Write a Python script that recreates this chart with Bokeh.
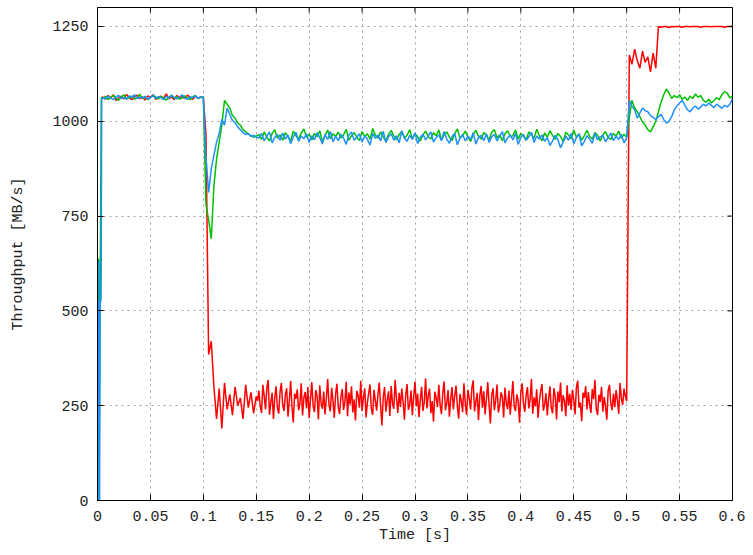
from bokeh.plotting import figure
from bokeh.models import FixedTicker, NumeralTickFormatter
from bokeh.embed import file_html
from bokeh.resources import INLINE

# ---------------- data ----------------
STEP = 0.0025
SEG_A_START = 0.005
SEG_B_START = 0.1025
SEG_C_START = 0.1525
RED_C_START = 0.15125
RED_C_STEP = 0.00125
SEG_D_START = 0.5025

X_MAX = 0.6
Y_MAX = 1300
x_ticks = [0, 0.05, 0.1, 0.15, 0.2, 0.25, 0.3, 0.35, 0.4, 0.45, 0.5, 0.55, 0.6]
y_ticks = [0, 250, 500, 750, 1000, 1250]

red_start_t = [0.0040]
red_start_v = [1064]
green_start_t = [0.0004, 0.0010, 0.0014, 0.0024, 0.0036]
green_start_v = [628, 638, 0, 515, 1062]
blue_start_t = [0.0004, 0.0010, 0.0014, 0.0020, 0.0024, 0.0034, 0.0040]
blue_start_v = [620, 632, 0, 0, 522, 530, 1060]

red_a = [1064, 1058, 1068, 1061, 1070, 1055, 1063, 1066, 1059, 1071,
         1062, 1057, 1065, 1069, 1060, 1064, 1056, 1067, 1063, 1070,
         1058, 1062, 1066, 1061, 1072, 1059, 1064, 1057, 1068, 1062,
         1065, 1060, 1069, 1063, 1058, 1066, 1061, 1064, 1062]
green_a = [1060, 1066, 1057, 1063, 1068, 1061, 1055, 1064, 1070, 1059,
           1062, 1067, 1058, 1063, 1071, 1060, 1065, 1057, 1062, 1068,
           1064, 1059, 1066, 1061, 1056, 1063, 1069, 1060, 1065, 1058,
           1062, 1067, 1061, 1057, 1064, 1068, 1060, 1063, 1065]
blue_a = [1062, 1059, 1066, 1061, 1057, 1065, 1068, 1060, 1063, 1058,
          1067, 1062, 1070, 1059, 1064, 1061, 1066, 1058, 1063, 1069,
          1060, 1065, 1062, 1057, 1066, 1061, 1068, 1063, 1059, 1064,
          1070, 1061, 1058, 1065, 1062, 1067, 1060, 1064, 1063]

red_b = [965, 385, 420, 300, 215, 295, 190, 310, 240, 280,
         225, 300, 250, 270, 215, 305, 245, 285, 230, 275]
green_b = [780, 740, 690, 830, 900, 945, 990, 1055, 1045, 1035,
           1015, 1008, 995, 990, 978, 972, 966, 962, 958, 961]
blue_b = [905, 812, 875, 910, 945, 968, 1005, 990, 1035, 1018,
          1002, 996, 985, 978, 970, 965, 968, 960, 963, 958]

red_c = [262, 290, 248, 231, 305, 276, 240, 298, 318, 226,
         258, 284, 215, 272, 301, 244, 229, 287, 310, 252,
         236, 279, 296, 221, 263, 315, 247, 206, 282, 268,
         293, 238, 255, 309, 224, 271, 286, 243, 299, 217,
         266, 312, 249, 233, 291, 275, 214, 304, 258, 242,
         287, 227, 269, 320, 251, 235, 297, 263, 218, 281,
         308, 246, 228, 274, 294, 239, 260, 313, 222, 285,
         253, 301, 232, 267, 211, 289, 277, 245, 316, 236,
         271, 296, 219, 258, 283, 306, 241, 226, 292, 264,
         237, 280, 311, 250, 198, 273, 299, 234, 265, 288,
         223, 302, 256, 242, 318, 269, 231, 284, 247, 295,
         260, 213, 278, 307, 239, 254, 290, 225, 273, 314,
         248, 282, 220, 266, 300, 236, 259, 322, 243, 276,
         295, 230, 262, 208, 287, 271, 246, 305, 252, 228,
         283, 314, 238, 257, 291, 221, 268, 299, 240, 275,
         303, 249, 216, 281, 262, 233, 309, 256, 226, 292,
         270, 240, 297, 317, 235, 261, 284, 212, 277, 302,
         245, 288, 227, 268, 312, 253, 203, 279, 296, 238,
         264, 306, 232, 251, 285, 274, 219, 298, 257, 241,
         290, 226, 271, 315, 247, 236, 280, 262, 205, 286,
         309, 255, 234, 277, 299, 243, 266, 320, 229, 272,
         248, 293, 218, 261, 289, 307, 237, 252, 283, 224,
         268, 301, 244, 230, 296, 275, 214, 287, 259, 311,
         235, 278, 263, 222, 304, 250, 281, 239, 292, 266,
         227, 298, 316, 245, 258, 209, 284, 271, 302, 240,
         286, 253, 231, 294, 267, 318, 242, 225, 279, 260,
         300, 234, 273, 249, 213, 289, 305, 256, 238, 282,
         246, 291, 264, 228, 310, 269, 252, 295, 275, 262]
green_c = [965, 952, 972, 958, 948, 968, 978, 955, 964, 950,
           970, 960, 947, 974, 962, 953, 969, 980, 957, 966,
           951, 968, 959, 975, 946, 963, 977, 954, 967, 960,
           971, 956, 964, 979, 950, 962, 970, 958, 949, 973,
           960, 967, 953, 981, 964, 955, 972, 959, 947, 966,
           976, 961, 951, 965, 973, 956, 963, 978, 954, 968,
           959, 948, 964, 974, 960, 953, 970, 962, 977, 950,
           964, 972, 958, 949, 967, 980, 955, 962, 974, 959,
           947, 965, 976, 961, 953, 970, 963, 951, 971, 978,
           956, 964, 949, 967, 975, 959, 962, 977, 953, 968,
           961, 950, 972, 965, 955, 979, 962, 948, 969, 958,
           975, 963, 952, 968, 960, 946, 971, 964, 954, 977,
           958, 967, 950, 962, 976, 960, 953, 970, 963, 948,
           964, 973, 957, 952, 968, 961, 974, 955, 966, 958]
blue_c = [956, 968, 948, 960, 972, 943, 958, 965, 950, 969,
          953, 963, 941, 959, 971, 947, 961, 954, 967, 944,
          962, 951, 970, 957, 940, 965, 952, 973, 946, 960,
          949, 966, 956, 939, 963, 972, 950, 958, 967, 945,
          961, 953, 937, 968, 955, 964, 948, 974, 944, 959,
          967, 950, 962, 943, 975, 956, 947, 963, 952, 970,
          941, 958, 966, 951, 961, 972, 945, 957, 964, 949,
          973, 953, 942, 960, 968, 938, 956, 965, 948, 961,
          952, 970, 940, 957, 963, 949, 967, 944, 959, 966,
          948, 961, 973, 943, 956, 964, 951, 968, 939, 958,
          965, 950, 959, 971, 944, 961, 953, 964, 947, 957,
          936, 948, 963, 952, 930, 945, 960, 950, 968, 941,
          957, 966, 935, 947, 962, 953, 942, 968, 951, 959,
          963, 946, 957, 969, 949, 961, 952, 966, 943, 956]

red_d = [1175, 1150, 1190, 1160, 1140, 1185, 1155, 1170, 1130, 1180,
         1140, 1250, 1248, 1250, 1250, 1247, 1250, 1249, 1250, 1250,
         1248, 1250, 1250, 1249, 1250, 1250, 1250, 1248, 1250, 1250,
         1250, 1249, 1250, 1250, 1250, 1250, 1248, 1250, 1250, 1250]
green_d = [1010, 1055, 1035, 1025, 1012, 998, 990, 978, 972, 985,
           1000, 1025, 1050, 1070, 1085, 1075, 1060, 1068, 1062, 1070,
           1058, 1064, 1055, 1066, 1060, 1072, 1063, 1068, 1055, 1050,
           1058, 1048, 1055, 1062, 1057, 1070, 1078, 1074, 1062, 1066]
blue_d = [1055, 1040, 1030, 1008, 1022, 1035, 1028, 1025, 1015, 1010,
          1005, 1012, 1018, 1005, 995, 1000, 1012, 1030, 1040, 1048,
          1055, 1042, 1030, 1025, 1035, 1040, 1032, 1038, 1045, 1040,
          1048, 1042, 1036, 1045, 1040, 1034, 1042, 1038, 1045, 1060]


def seg_times(start, values, step=STEP):
    return [round(start + step * i, 6) for i in range(len(values))]


red_t = (red_start_t + seg_times(SEG_A_START, red_a) + seg_times(SEG_B_START, red_b)
         + seg_times(RED_C_START, red_c, RED_C_STEP) + seg_times(SEG_D_START, red_d))
red_v = red_start_v + red_a + red_b + red_c + red_d
green_t = (green_start_t + seg_times(SEG_A_START, green_a) + seg_times(SEG_B_START, green_b)
           + seg_times(SEG_C_START, green_c) + seg_times(SEG_D_START, green_d))
green_v = green_start_v + green_a + green_b + green_c + green_d
blue_t = (blue_start_t + seg_times(SEG_A_START, blue_a) + seg_times(SEG_B_START, blue_b)
          + seg_times(SEG_C_START, blue_c) + seg_times(SEG_D_START, blue_d))
blue_v = blue_start_v + blue_a + blue_b + blue_c + blue_d

# ---------------- figure ----------------
FONT = "Liberation Mono"
TXT = "#222222"

p = figure(width=745, height=547, x_range=(0, X_MAX), y_range=(0, Y_MAX),
           output_backend="svg", toolbar_location=None,
           min_border_left=97, min_border_right=13,
           min_border_top=7, min_border_bottom=47)
p.background_fill_color = "white"
p.border_fill_color = "white"
p.outline_line_color = "black"
p.outline_line_width = 1

for g in (p.xgrid[0], p.ygrid[0]):
    g.grid_line_color = "#a0a0a0"
    g.grid_line_dash = "2 4"
    g.grid_line_width = 1
p.xgrid.ticker = FixedTicker(ticks=x_ticks)
p.ygrid.ticker = FixedTicker(ticks=y_ticks)

p.line(red_t, red_v, line_color="#ff0000", line_width=1.5)
p.line(green_t, green_v, line_color="#00c000", line_width=1.5)
p.line(blue_t, blue_v, line_color="#1e90ff", line_width=1.5)

# mirrored inward ticks on the top and right borders
p.ray(x=x_ticks, y=[Y_MAX] * len(x_ticks), length=5, angle=-90, angle_units="deg",
      length_units="screen", line_color="black", line_width=1)
p.ray(x=[X_MAX] * len(y_ticks), y=y_ticks, length=5, angle=180, angle_units="deg",
      length_units="screen", line_color="black", line_width=1)

p.xaxis.ticker = FixedTicker(ticks=x_ticks)
p.xaxis.formatter = NumeralTickFormatter(format="0.[00]")
p.yaxis.ticker = FixedTicker(ticks=y_ticks)

for ax in (p.xaxis[0], p.yaxis[0]):
    ax.major_tick_in = 6
    ax.major_tick_out = 0
    ax.minor_tick_in = 0
    ax.minor_tick_out = 0
    ax.axis_line_color = "black"
    ax.major_tick_line_color = "black"
    ax.major_label_text_font = FONT
    ax.major_label_text_font_size = "15px"
    ax.major_label_text_color = TXT
    ax.axis_label_text_font = FONT
    ax.axis_label_text_font_size = "15px"
    ax.axis_label_text_font_style = "normal"
    ax.axis_label_text_color = TXT

p.xaxis.axis_label = "Time [s]"
p.yaxis.axis_label = "Throughput [MB/s]"
p.xaxis.major_label_standoff = 10
p.xaxis.axis_label_standoff = 3
p.yaxis.major_label_standoff = 9
p.yaxis.axis_label_standoff = 22

open("out.html", "w").write(file_html(p, INLINE))
